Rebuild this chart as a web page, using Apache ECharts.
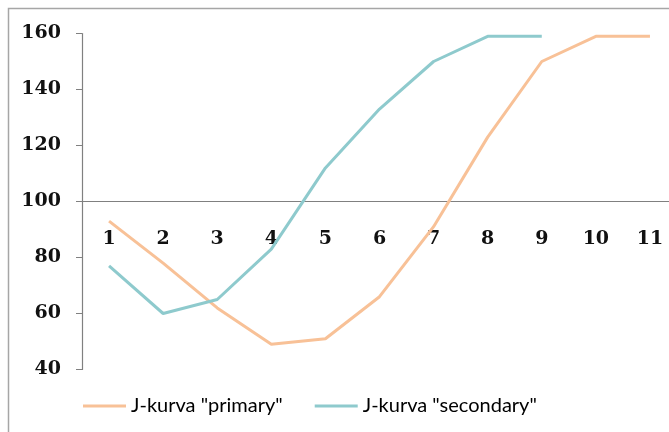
<!DOCTYPE html>
<html>
<head>
<meta charset="utf-8">
<script src="https://cdn.jsdelivr.net/npm/echarts@6/dist/echarts.min.js"></script>
<style>
  html, body { margin: 0; padding: 0; background: #fff; }
  #chart { width: 669px; height: 432px; }
</style>
</head>
<body>
<div id="chart"></div>
<script>
var categories = ['1', '2', '3', '4', '5', '6', '7', '8', '9', '10', '11'];
var primary = [93, 78, 62, 49, 51, 66, 91, 123, 150, 159, 159];
var secondary = [77, 60, 65, 83, 112, 133, 150, 159, 159];
var yTicks = { min: 40, max: 160, interval: 20 };
var baseValue = 100;

var chart = echarts.init(document.getElementById('chart'), null, { renderer: 'canvas' });

var option = {
    animation: false,
    backgroundColor: '#fff',
    graphic: [{
        type: 'rect',
        shape: { x: 8.5, y: 8.5, width: 700, height: 500 },
        style: { fill: 'none', stroke: '#a6a6a6', lineWidth: 1.5 },
        silent: true
    }],
    grid: {
        left: 82,
        width: 595,
        top: 33.5,
        bottom: 62.5,
        containLabel: false,
        outerBoundsMode: 'none'
    },
    legend: {
        left: 78,
        top: 391,
        icon: 'rect',
        itemWidth: 43,
        itemHeight: 3,
        itemGap: 32,
        textStyle: {
            fontFamily: 'Lato',
            fontSize: 20,
            color: '#000'
        },
        data: ['J-kurva "primary"', 'J-kurva "secondary"']
    },
    xAxis: {
        type: 'category',
        data: categories,
        boundaryGap: true,
        offset: 0,
        axisLine: { show: true, lineStyle: { color: '#808080', width: 1.2 } },
        axisTick: { show: false },
        axisLabel: {
            margin: 28,
            fontFamily: 'DejaVu Serif',
            fontWeight: 'bold',
            fontSize: 19,
            color: '#111'
        },
        splitLine: { show: false }
    },
    yAxis: {
        type: 'value',
        min: yTicks.min,
        max: yTicks.max,
        interval: yTicks.interval,
        axisLine: { show: true, lineStyle: { color: '#808080', width: 1.2 } },
        axisTick: { show: true, length: 6, lineStyle: { color: '#808080' } },
        axisLabel: {
            margin: 21,
            fontFamily: 'DejaVu Serif',
            fontWeight: 'bold',
            fontSize: 19,
            color: '#111'
        },
        splitLine: { show: false }
    },
    series: [
        {
            name: 'J-kurva "primary"',
            type: 'line',
            data: primary,
            symbol: 'none',
            lineStyle: { color: '#f8c197', width: 3 },
            itemStyle: { color: '#f8c197' }
        },
        {
            name: 'J-kurva "secondary"',
            type: 'line',
            data: secondary,
            symbol: 'none',
            lineStyle: { color: '#8ecacd', width: 3 },
            itemStyle: { color: '#8ecacd' }
        }
    ]
};

chart.setOption(option);

// move the category axis so it crosses the value axis at 100
var yBase = chart.convertToPixel({ yAxisIndex: 0 }, baseValue);
var yBottom = chart.convertToPixel({ yAxisIndex: 0 }, yTicks.min);
chart.setOption({ xAxis: { offset: yBase - yBottom } });

window.addEventListener('resize', function () {
    chart.resize();
});
</script>
</body>
</html>
